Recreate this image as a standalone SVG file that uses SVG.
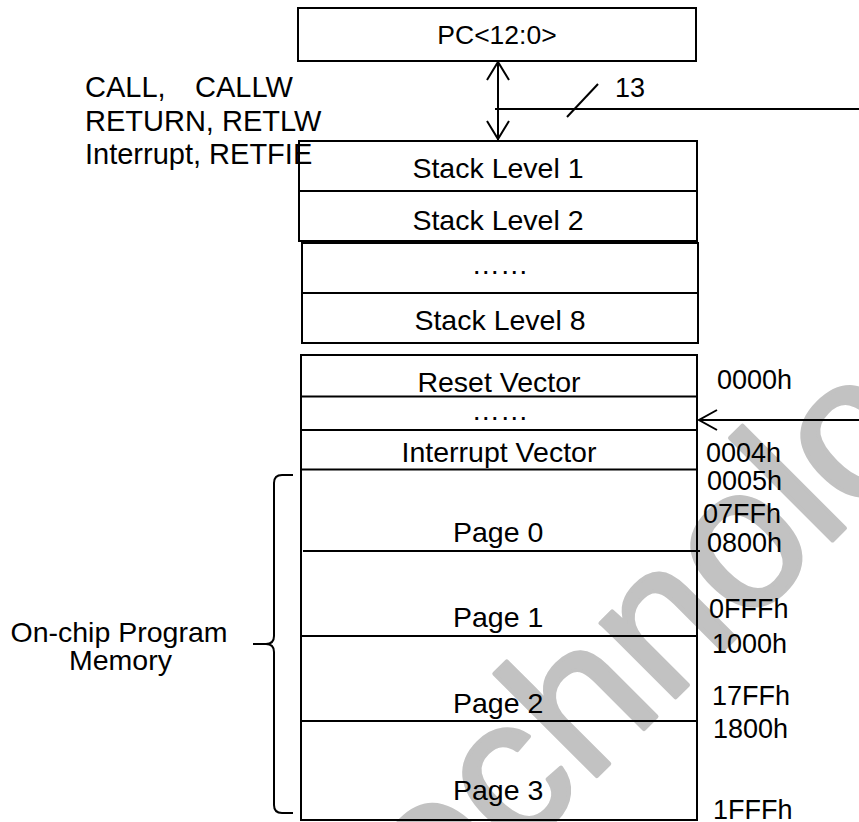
<svg xmlns="http://www.w3.org/2000/svg" width="859" height="822" viewBox="0 0 859 822">
<style>
text{font-family:"Liberation Sans",Arial,sans-serif;fill:#000}
.box{fill:none;stroke:#000;stroke-width:2}
.ln{fill:none;stroke:#000;stroke-width:2}
.c{text-anchor:middle}
.t28{font-size:28.5px}
.addr{font-size:27px}
.wm{font-size:200px;fill:#c2c2c2;stroke:#c2c2c2;stroke-width:4;stroke-linejoin:round}
</style>
<rect width="859" height="822" fill="#fff"/>
<g id="watermark">
<text class="wm" transform="translate(367,1006) rotate(-45)">Technology</text>
</g>
<g id="pc">
<rect class="box" x="298" y="8" width="398" height="53"/>
<text class="c" x="497" y="44" font-size="26.5">PC&lt;12:0&gt;</text>
</g>
<g id="ops-label">
<text x="85" y="97" font-size="29">CALL,<tspan x="195">CALLW</tspan></text>
<text x="85" y="130.5" font-size="29">RETURN, RETLW</text>
<text x="85" y="164" font-size="29">Interrupt, RETFIE</text>
</g>
<g id="stack1">
<rect class="box" x="299" y="141" width="398" height="50"/>
<text class="c t28" x="498" y="177.5">Stack Level 1</text>
</g>
<g id="stack2">
<rect class="box" x="299" y="191" width="398" height="50"/>
<text class="c t28" x="498" y="230">Stack Level 2</text>
</g>
<g id="stack-dots">
<rect class="box" x="302" y="243" width="396" height="50"/>
<text class="c t28" x="500" y="274">……</text>
</g>
<g id="stack8">
<rect class="box" x="302" y="293" width="396" height="50"/>
<text class="c t28" x="500" y="330">Stack Level 8</text>
</g>
<g id="program-memory">
<rect class="box" x="301" y="355" width="396" height="465"/>
<line class="ln" x1="301" y1="396.5" x2="697" y2="396.5"/>
<line class="ln" x1="301" y1="430" x2="697" y2="430"/>
<line class="ln" x1="301" y1="469.5" x2="697" y2="469.5"/>
<line class="ln" x1="303" y1="551" x2="700" y2="551"/>
<line class="ln" x1="301" y1="636" x2="697" y2="636"/>
<line class="ln" x1="302" y1="721" x2="697" y2="721"/>
<text class="c t28" x="499" y="391.5">Reset Vector</text>
<text class="c t28" x="500" y="419.5">……</text>
<text class="c t28" x="499" y="461.5">Interrupt Vector</text>
<text class="t28" x="453" y="542">Page 0</text>
<text class="t28" x="453" y="627">Page 1</text>
<text class="t28" x="453" y="713">Page 2</text>
<text class="t28" x="453" y="800">Page 3</text>
</g>
<g id="addresses" class="addr">
<text x="717" y="389">0000h</text>
<text x="706" y="462">0004h</text>
<text x="707" y="490">0005h</text>
<text x="703" y="523">07FFh</text>
<text x="707" y="552">0800h</text>
<text x="709" y="618">0FFFh</text>
<text x="712" y="653">1000h</text>
<text x="712" y="705">17FFh</text>
<text x="713" y="738">1800h</text>
<text x="713" y="819">1FFFh</text>
</g>
<g id="memory-brace">
<path class="ln" d="M293,475 H282 Q274,475 274,483 V636 Q274,644 266,644 H253 M266,644 Q274,644 274,652 V805 Q274,813 282,813 H293"/>
<text class="c t28" x="119" y="641.5">On-chip Program</text>
<text class="c t28" x="120.5" y="670">Memory</text>
</g>
<g id="connectors">
<line class="ln" x1="498" y1="62" x2="498" y2="140"/>
<polyline class="ln" points="487,80 498,62 509,80"/>
<polyline class="ln" points="487,121 498,139 509,121"/>
<line class="ln" x1="495" y1="109" x2="859" y2="109"/>
<line class="ln" x1="567" y1="117" x2="598" y2="84"/>
<text x="615" y="97" font-size="27">13</text>
<line class="ln" x1="699" y1="420" x2="859" y2="420"/>
<polyline class="ln" points="717,410 699,420 717,430"/>
</g>
</svg>
